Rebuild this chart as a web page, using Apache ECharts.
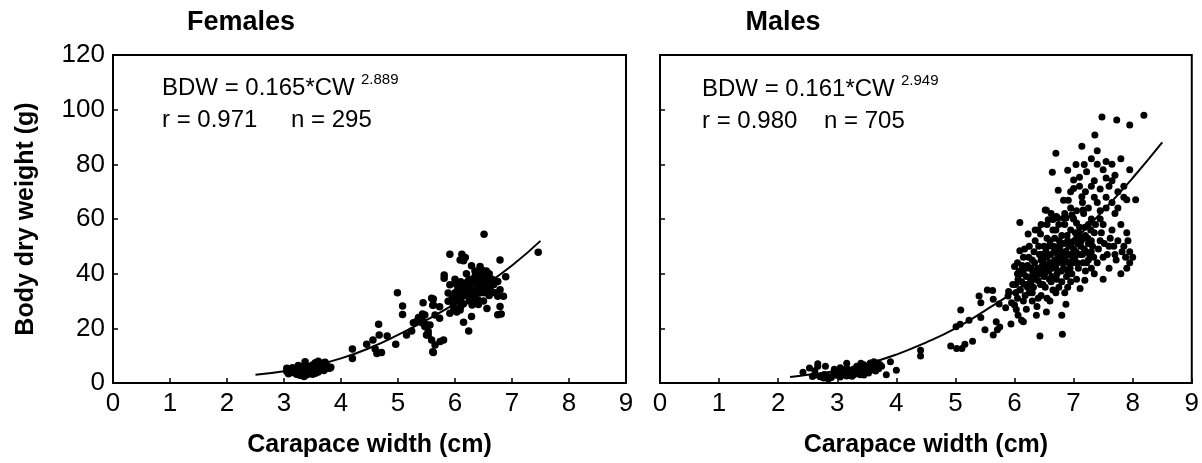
<!DOCTYPE html>
<html>
<head>
<meta charset="utf-8">
<script src="https://cdn.jsdelivr.net/npm/echarts@6/dist/echarts.min.js"></script>
<style>
html,body{margin:0;padding:0;background:#fff;}
#chart{width:1202px;height:463px;}
</style>
</head>
<body>
<div id="chart"></div>
<script>
// ---------- DATA ----------
const panelTitles = ['Females', 'Males'];
const xTitle = 'Carapace width (cm)';
const yTitle = 'Body dry weight (g)';
const eqFemales = ['BDW = 0.165*CW', '2.889', 'r = 0.971', 'n = 295'];
const eqMales = ['BDW = 0.161*CW', '2.949', 'r = 0.980', 'n = 705'];

// fitted curves [CW, BDW]
const femaleCurve = [[2.5,3.0],[3,4.3],[3.5,6.3],[4,9.0],[4.5,12.8],[5,17.6],[5.5,23.0],[6,29.0],[6.5,35.5],[7,43.0],[7.5,52.0]];
const maleCurve = [[2.2,2.2],[2.5,3.0],[3,4.6],[3.5,7.0],[4,10.4],[4.5,14.8],[5,20.0],[5.5,26.5],[6,33.5],[6.5,42.0],[7,52.0],[7.5,63.0],[8,75.0],[8.5,88.0]];

// observed points [CW, BDW]
const femalePoints = [
[3.05,4.2],[3.08,3.4],[3.1,5.0],[3.12,4.6],[3.15,3.8],[3.18,4.4],[3.2,5.2],[3.22,3.2],[3.25,4.0],[3.27,4.8],[3.3,3.0],[3.3,5.6],
[3.32,4.2],[3.35,3.6],[3.35,6.2],[3.38,4.8],[3.4,5.4],[3.4,3.4],[3.42,4.4],[3.45,6.0],[3.45,3.8],[3.48,5.0],[3.5,4.2],[3.5,6.6],
[3.52,5.6],[3.55,4.6],[3.55,3.6],[3.58,6.2],[3.6,5.2],[3.6,8.0],[3.62,4.8],[3.65,6.6],[3.65,5.6],[3.68,7.2],[3.7,6.0],[3.7,4.6],
[3.72,7.6],[3.75,6.4],[3.78,5.4],[3.81,5.5],[3.82,5.8],[3.25,6.4],[3.15,5.6],[3.37,7.8],[3.55,7.4],[3.35,2.4],[3.4,3.0],[3.6,4.0],
[3.05,5.4],[3.28,2.8],[3.5,3.2],[3.75,6.1],[3.3,4.5],[3.45,5.3],[3.55,5.0],[3.2,4.0],[3.4,4.0],[3.6,6.0],[3.5,5.8],
[4.2,12.4],[4.2,9.0],[4.45,14.2],[4.56,15.7],[4.6,12.4],[4.63,10.8],[4.71,11.2],[4.66,21.5],[4.67,17.6],[4.81,17.2],[4.96,14.2],
[4.99,33.0],[5.08,28.2],[5.08,25.1],[5.15,17.6],[5.24,19.0],[5.33,22.6],[5.36,24.0],[5.44,29.4],[5.43,25.2],[5.5,21.3],[5.5,17.6],
[5.53,18.8],[5.59,15.7],[5.61,11.4],[5.62,30.7],[5.61,28.4],[5.65,13.9],[5.8,15.7],[5.62,11.2],[5.74,15.2],[5.47,20.7],[5.42,22.0],
[5.27,22.0],[5.59,31],[5.62,28.5],[5.73,27.9],[5.65,24.9],[5.47,24.9],[5.44,22.4],[5.56,21.2],[5.53,17.6],[5.73,23.7],
[6.51,54.4],[7.46,47.8],[5.91,47.1],[6.12,47.1],[6.18,45.9],[6.15,44.7],[6.09,45.0],[6.29,42.9],[6.44,42.6],[6.47,41.3],[6.79,45.0],
[5.81,39.5],[5.81,38.3],[6.89,38.9],[6.75,37.1],[6.79,34.1],[6.85,31.7],[6.75,31.7],[6.79,28.0],[6.75,25.0],[6.81,25.2],
[5.91,35.9],[5.88,32.9],[5.88,29.9],[6.56,27.3],[6.29,24.3],[6.15,22.2],[6.24,19.0],[5.91,25.5],[5.97,28.5],[6.09,26.7],
[6.32,31.2],[6.41,28.7],
[6.0,33],[6.05,35],[6.1,31],[6.1,37],[6.15,34],[6.2,32],[6.2,36],[6.25,38],[6.25,30],[6.3,34],[6.3,36.5],[6.35,32],[6.35,39],
[6.4,35],[6.4,30.5],[6.45,37],[6.45,33],[6.5,35.5],[6.5,39.5],[6.55,34],[6.55,37.5],[6.6,36],[6.6,32],[6.65,38],[6.15,29],[6.05,30],
[6.0,36.5],[6.2,40],[6.35,41],[6.5,30],[6.3,28.5],[6.1,28],[6.4,33.5],[6.25,35],[6.45,40.5],[6.55,41],[6.6,40],[6.0,38],
[6.02,31],[6.07,33.5],[6.12,35.5],[6.17,32.5],[6.22,34],[6.27,36.5],[6.32,33],[6.37,37],[6.42,34.5],[6.47,36],[6.52,33],[6.57,35.5],
[6.62,34],[6.27,31.5],[6.37,30],[6.12,32],[6.47,38.5],[6.57,39],[6.22,37],[6.42,39],[5.95,31],[5.98,27],[6.03,26],[6.68,36],[6.7,33]
];

const malePoints = [
[2.42,3.9],[2.53,5.5],[2.67,7.0],[2.67,6.1],[2.8,6.1],[2.63,2.9],[2.71,2.3],[2.77,1.8],[2.85,2.4],[2.94,3.4],[3.02,4.3],[3.1,3.9],
[3.16,5.5],[3.22,4.6],[3.28,5.1],[3.33,6.1],[3.39,5.5],[3.45,6.7],[3.5,6.1],[3.56,7.3],[3.61,6.7],[3.67,7.3],[3.47,4.3],[3.53,3.7],
[3.39,3.0],[3.28,3.0],[3.16,2.6],[3.05,2.2],[2.85,1.5],[2.78,3.1],[2.75,2.7],[2.9,2.0],[2.98,2.8],[3.0,3.2],[3.08,4.8],[3.12,3.0],
[3.2,3.6],[3.25,2.5],[3.3,4.0],[3.35,4.6],[3.4,7.2],[3.42,5.0],[3.5,5.2],[3.55,5.8],[3.58,4.8],[3.6,5.6],[3.62,7.8],[3.65,4.4],
[3.68,6.2],[3.7,5.2],[3.72,6.8],[3.16,7.2],[3.05,5.6],[2.95,5.0],[3.36,3.4],[3.45,2.9],[3.75,6.1],[3.9,7.8],[4.0,4.7],[3.83,3.0],
[2.62,4.5],[2.58,2.4],
[4.41,12.0],[4.41,9.9],[4.92,13.5],[5.02,12.6],[5.11,12.6],[5.16,14.2],[5.29,15.3],[5.01,20.6],[5.08,21.5],[5.09,26.7],[5.23,23.0],
[5.43,24.0],[5.4,31.8],[5.43,29.4],[5.54,34.0],[5.63,33.8],[5.64,30.6],[5.5,19.5],[5.64,17.6],[5.71,19.5],[5.75,20.5],[5.69,22.4],
[5.74,28.9],[5.94,21.6],[5.89,31.8],[5.95,29.4],[6.0,28.5],[6.03,26.9],[6.06,24.8],[6.12,23.0],[6.15,22.4],[6.0,42.6],[6.09,48.4],
[6.23,54.5],[6.44,54.5],[6.09,58.7],[6.43,17.2],[6.81,17.8],[6.37,24.8],[6.54,26.0],[6.8,24.8],[6.87,28.8],[7.11,34.6],[7.19,37.6],
[5.9,33.5],[5.85,27.5],[5.97,36],[6.05,31],[6.06,38],[6.1,34],[6.12,40],[6.15,30],[6.18,36],[6.2,27],[6.22,43],[6.25,33],[6.27,38.5],
[6.3,30],[6.3,45],[6.32,35],[6.35,41],[6.38,28],[6.4,37.5],[6.42,47],[6.45,32],[6.47,43],[6.5,39],[6.5,50],[6.52,35],[6.55,46],
[6.58,41],[6.6,30],[6.6,52],[6.62,37],[6.65,44],[6.67,48],[6.7,33],[6.7,56],[6.72,40],[6.75,50],[6.78,45],[6.8,37],[6.8,54],[6.83,42],
[6.85,58],[6.87,48],[6.9,35],[6.9,52],[6.92,44],[6.95,56],[6.97,40],[7.0,49],[7.0,60],[7.02,46],[7.05,53],[7.08,42],[7.1,57],[7.12,50],
[7.15,47],[7.17,62],[7.2,54],[7.22,44],[7.25,58],[7.25,51],[6.05,44],[6.15,46],[6.25,50],[6.35,52],[6.55,58],[6.62,62],[6.4,56],
[6.2,39],[6.45,45],[6.33,48],[6.58,50],[6.68,53],[6.73,47],[6.88,39],[6.93,50],[6.98,45],[7.03,55],[7.07,51],[6.5,42],[6.6,44],
[6.7,42],[6.77,49],[6.84,51],[6.95,47],[6.42,40],[6.28,42],[6.12,37],[6.02,33],[6.18,32],[6.48,36],[6.63,39],[6.9,41],[7.15,53],[7.18,49],
[6.02,36],[6.08,41],[6.13,43],[6.17,49],[6.22,35],[6.24,46],[6.28,37],[6.31,40],[6.34,44],[6.36,38],[6.39,42],[6.41,50],[6.44,36],
[6.46,47],[6.49,44],[6.51,40],[6.53,48],[6.56,43],[6.59,38],[6.61,47],[6.63,42],[6.66,50],[6.68,45],[6.71,38],[6.74,44],[6.76,52],
[6.79,41],[6.81,47],[6.82,44],[6.86,45],[6.89,54],[6.91,47],[6.94,42],[6.96,51],[6.99,44],[7.01,52],[7.04,48],[7.06,44],[7.09,55],
[7.11,47],[7.13,52],[7.16,44],[7.19,57],[7.21,48],[7.24,53],[7.27,47],[7.29,56],[7.32,50],[7.34,46],[7.37,58],[7.42,49],[7.47,55],
[7.52,51],[7.57,47],[7.62,53],[7.68,50],[7.72,45],[7.82,48],[7.88,46],[7.92,52],[6.55,53],[6.65,56],[6.75,58],[6.85,62],[6.95,64],
[7.05,63],[7.15,66],[7.25,64],[7.35,68],[7.45,63],[7.55,75],[7.65,66],[7.75,64],[7.85,72],[7.2,70],[7.3,72],[6.95,70],[7.1,72],
[6.45,58],[6.35,56],[6.25,42],[6.15,41],[6.05,40],[6.55,31],[6.65,34],[6.75,35],[6.85,33],[6.95,37],[7.05,38],[7.2,41],[7.3,42],
[6.4,31],[6.3,33],
[6.7,84.1],[7.14,86.6],[6.64,77.1],[6.9,77.8],[7.04,79.9],[7.18,79.9],[6.74,70.5],[6.54,63.2],[6.65,59.8],[6.73,60.4],[6.87,60.4],
[6.99,60.4],[7.48,97.3],[7.73,96.2],[7.95,94.4],[8.19,98],[7.36,90.7],[7.0,74.3],[7.1,75.3],[7.22,77.3],[6.83,66.9],[6.91,66.9],
[7.0,71.2],[6.52,63.3],[7.14,68.1],[6.71,60.9],[6.83,60.3],[6.57,59.7],[6.97,61.5],[7.05,58.5],[7.16,63.3],
[7.3,82],[7.4,80],[7.5,78],[7.55,81],[7.65,80],[7.7,76],[7.35,74],[7.45,71],[7.6,72],[7.75,70],[7.85,68],[7.4,66],[7.55,64],[7.7,62],
[7.9,67],[8.05,67],[7.3,60],[7.5,58],[7.65,56],[7.8,58],[7.35,55],[7.45,52],[7.6,50],[7.75,52],[7.9,55],[7.3,48],[7.5,46],[7.7,47],
[7.85,50],[7.95,48],[7.95,44],[7.9,42],[8.0,46],[7.4,44],[7.6,42],[7.8,40],[7.35,40],[7.5,38],[7.25,45],[7.3,52],[7.45,60],[7.55,68],
[7.65,74],[7.4,85],[7.8,82],[7.95,78]
];

// ---------- CHART ----------
const FONT = "'Liberation Sans', Arial, Helvetica, sans-serif";
const chart = echarts.init(document.getElementById('chart'), null, {renderer: 'canvas'});

function xAxisCfg(gi) {
  return {
    type: 'value', gridIndex: gi, min: 0, max: 9, interval: 1,
    axisLine: {show: true, onZero: false, lineStyle: {color: '#000', width: 2}},
    axisTick: {show: true, inside: true, length: 5, lineStyle: {color: '#000', width: 1.5}},
    splitLine: {show: false},
    axisLabel: {color: '#000', fontSize: 26, fontFamily: FONT, margin: 8},
    name: xTitle, nameLocation: 'middle', nameGap: 50,
    nameTextStyle: {color: '#000', fontSize: 25, fontWeight: 'bold', fontFamily: FONT}
  };
}
function yAxisCfg(gi, showLabels) {
  const cfg = {
    type: 'value', gridIndex: gi, min: 0, max: 120, interval: 20,
    axisLine: {show: true, onZero: false, lineStyle: {color: '#000', width: 2}},
    axisTick: {show: true, inside: true, length: 5, lineStyle: {color: '#000', width: 1.5}},
    splitLine: {show: false},
    axisLabel: {show: showLabels, color: '#000', fontSize: 26, fontFamily: FONT, margin: 8}
  };
  if (showLabels) {
    cfg.name = yTitle; cfg.nameLocation = 'middle'; cfg.nameGap = 74;
    cfg.nameTextStyle = {color: '#000', fontSize: 25, fontWeight: 'bold', fontFamily: FONT};
  }
  return cfg;
}
function txt(x, y, text, size, bold, align) {
  return {type: 'text', x: x, y: y, z: 10,
    style: {text: text, x: 0, y: 0, fill: '#000', font: (bold ? 'bold ' : '') + size + 'px ' + FONT,
      textAlign: align || 'left', textVerticalAlign: 'middle'}};
}

const option = {
  backgroundColor: '#fff',
  animation: false,
  grid: [
    {left: 113, top: 55, width: 513, height: 328, show: true, borderColor: '#000', borderWidth: 2, backgroundColor: 'transparent'},
    {left: 660, top: 55, width: 532, height: 328, show: true, borderColor: '#000', borderWidth: 2, backgroundColor: 'transparent'}
  ],
  xAxis: [xAxisCfg(0), xAxisCfg(1)],
  yAxis: [yAxisCfg(0, true), yAxisCfg(1, false)],
  graphic: [
    txt(241, 23, panelTitles[0], 27, true, 'center'),
    txt(783, 23, panelTitles[1], 27, true, 'center'),
    txt(162, 88, eqFemales[0], 24, false),
    txt(361, 80, eqFemales[1], 15, false),
    txt(162, 120, eqFemales[2], 24, false),
    txt(291, 120, eqFemales[3], 24, false),
    txt(702, 89, eqMales[0], 24, false),
    txt(901, 81, eqMales[1], 15, false),
    txt(702, 121, eqMales[2], 24, false),
    txt(824, 121, eqMales[3], 24, false)
  ],
  series: [
    {type: 'scatter', xAxisIndex: 0, yAxisIndex: 0, data: femalePoints, symbol: 'circle', symbolSize: 7.5,
      itemStyle: {color: '#000', opacity: 1}, silent: true},
    {type: 'line', xAxisIndex: 0, yAxisIndex: 0, data: femaleCurve, smooth: true, showSymbol: false,
      lineStyle: {color: '#000', width: 2}, silent: true},
    {type: 'scatter', xAxisIndex: 1, yAxisIndex: 1, data: malePoints, symbol: 'circle', symbolSize: 7,
      itemStyle: {color: '#000', opacity: 1}, silent: true},
    {type: 'line', xAxisIndex: 1, yAxisIndex: 1, data: maleCurve, smooth: true, showSymbol: false,
      lineStyle: {color: '#000', width: 2}, silent: true}
  ]
};
chart.setOption(option);
</script>
</body>
</html>
